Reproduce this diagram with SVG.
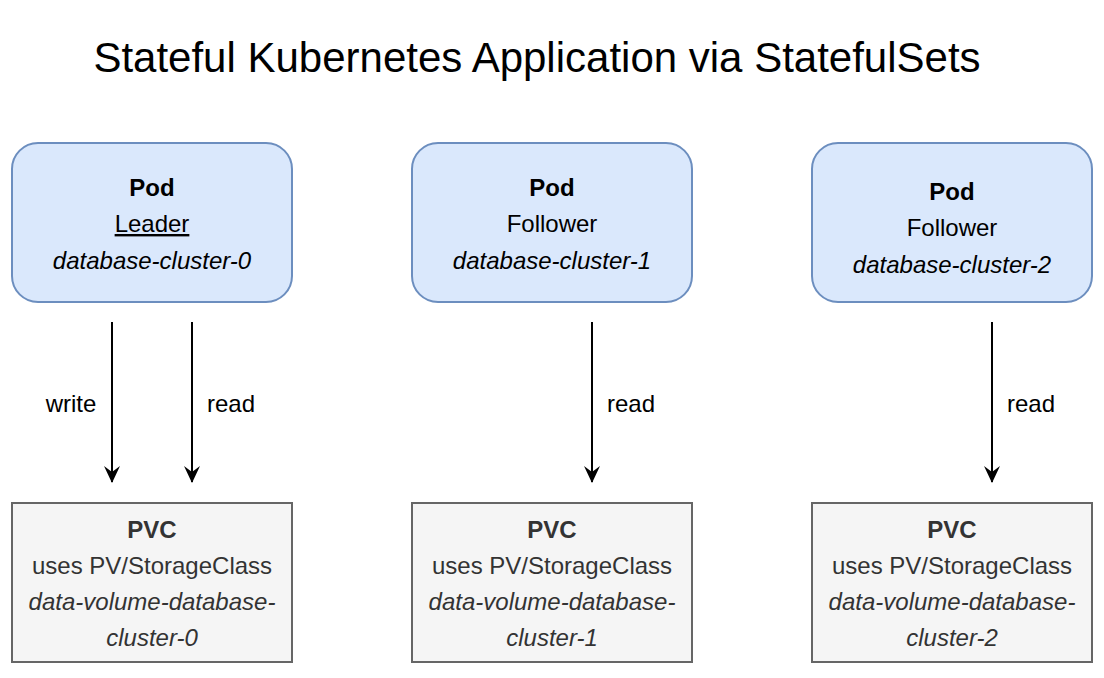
<svg xmlns="http://www.w3.org/2000/svg" width="1104" height="678" viewBox="0 0 1104 678">
<defs>
<marker id="arr" markerUnits="userSpaceOnUse" markerWidth="20" markerHeight="20" refX="16" refY="8" orient="auto" viewBox="0 0 20 16">
<path d="M0,0 L17,8 L0,16 L6,8 Z" fill="#000"/>
</marker>
</defs>
<style>
text{font-family:"Liberation Sans",Arial,Helvetica,sans-serif;text-anchor:middle;}
.pod rect{fill:#dae8fc;stroke:#6c8ebf;stroke-width:2;}
.pvc rect{fill:#f5f5f5;stroke:#666666;stroke-width:2;}
.pod text{font-size:24px;fill:#000;}
.pvc text{font-size:24px;fill:#333333;}
.b{font-weight:bold;}
.i{font-style:italic;}
.u{text-decoration:underline;}
.lbl{font-size:24px;fill:#000;}
.conn line{stroke:#000;stroke-width:2;marker-end:url(#arr);}
</style>
<rect width="1104" height="678" fill="#fff"/>
<text x="537" y="72" style="font-size:42px" fill="#000">Stateful Kubernetes Application via StatefulSets</text>

<g id="pod0" class="pod">
<rect x="12" y="143" width="280" height="159" rx="26"/>
<text x="152" y="196" class="b">Pod</text>
<text x="152" y="232" class="u">Leader</text>
<text x="152" y="269" class="i">database-cluster-0</text>
</g>
<g id="pod1" class="pod">
<rect x="412" y="143" width="280" height="159" rx="26"/>
<text x="552" y="196" class="b">Pod</text>
<text x="552" y="232">Follower</text>
<text x="552" y="269" class="i">database-cluster-1</text>
</g>
<g id="pod2" class="pod">
<rect x="812" y="143" width="280" height="159" rx="26"/>
<text x="952" y="200" class="b">Pod</text>
<text x="952" y="236">Follower</text>
<text x="952" y="273" class="i">database-cluster-2</text>
</g>

<g id="pvc0" class="pvc">
<rect x="12" y="503" width="280" height="159"/>
<text x="152" y="538" class="b">PVC</text>
<text x="152" y="574">uses PV/StorageClass</text>
<text x="152" y="610" class="i">data-volume-database-</text>
<text x="152" y="646" class="i">cluster-0</text>
</g>
<g id="pvc1" class="pvc">
<rect x="412" y="503" width="280" height="159"/>
<text x="552" y="538" class="b">PVC</text>
<text x="552" y="574">uses PV/StorageClass</text>
<text x="552" y="610" class="i">data-volume-database-</text>
<text x="552" y="646" class="i">cluster-1</text>
</g>
<g id="pvc2" class="pvc">
<rect x="812" y="503" width="280" height="159"/>
<text x="952" y="538" class="b">PVC</text>
<text x="952" y="574">uses PV/StorageClass</text>
<text x="952" y="610" class="i">data-volume-database-</text>
<text x="952" y="646" class="i">cluster-2</text>
</g>

<g id="connectors" class="conn">
<line x1="112" y1="322" x2="112" y2="482"/>
<line x1="192" y1="322" x2="192" y2="482"/>
<line x1="592" y1="322" x2="592" y2="482"/>
<line x1="992" y1="322" x2="992" y2="482"/>
<text x="71" y="412" class="lbl">write</text>
<text x="231" y="412" class="lbl">read</text>
<text x="631" y="412" class="lbl">read</text>
<text x="1031" y="412" class="lbl">read</text>
</g>
</svg>
